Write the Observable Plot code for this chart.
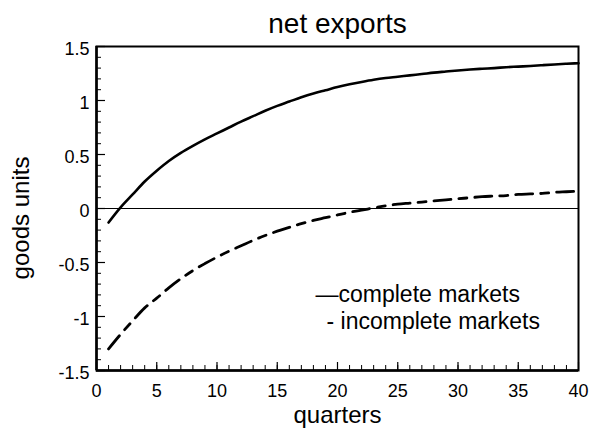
<!DOCTYPE html>
<html>
<head>
<meta charset="utf-8">
<script src="https://cdn.jsdelivr.net/npm/d3@7"></script>
<script src="https://cdn.jsdelivr.net/npm/@observablehq/plot@0.6"></script>
<style>
  html, body { margin: 0; padding: 0; background: #fff; }
</style>
</head>
<body>
<div id="chart"></div>
<script>
const title = "net exports";
const xLabel = "quarters";
const yLabel = "goods units";
const legendLabels = ["—complete markets", "- incomplete markets"];

const quarters = d3.range(1, 41);
const complete = [
  -0.13, 0.01, 0.13, 0.25, 0.35, 0.44, 0.515, 0.58, 0.64, 0.695,
  0.75, 0.805, 0.855, 0.905, 0.95, 0.99, 1.03, 1.065, 1.095, 1.125,
  1.15, 1.172, 1.192, 1.208, 1.22, 1.233, 1.245, 1.258, 1.268, 1.278,
  1.287, 1.294, 1.30, 1.308, 1.314, 1.32, 1.327, 1.334, 1.34, 1.345
];
const incomplete = [
  -1.30, -1.165, -1.04, -0.92, -0.83, -0.735, -0.65, -0.575, -0.51, -0.45,
  -0.395, -0.345, -0.295, -0.25, -0.21, -0.175, -0.14, -0.11, -0.085, -0.06,
  -0.035, -0.015, 0.005, 0.025, 0.04, 0.05, 0.06, 0.07, 0.08, 0.09,
  0.10, 0.11, 0.115, 0.12, 0.13, 0.135, 0.14, 0.15, 0.155, 0.16
];

const xTicks = [0, 5, 10, 15, 20, 25, 30, 35, 40];
const yTicks = [-1.5, -1, -0.5, 0, 0.5, 1, 1.5];
const xMinor = d3.range(0, 41, 1);
const yMinor = d3.range(-15, 16, 1).map(d => d / 10);

const W = 590, H = 434;
const mL = 96, mR = 12, mT = 46, mB = 64;
const pw = W - mL - mR, ph = H - mT - mB;

const rowsC = quarters.map((q, i) => ({q, v: complete[i]}));
const rowsI = quarters.map((q, i) => ({q, v: incomplete[i]}));

const font = "'Liberation Sans', Arial, Helvetica, sans-serif";

const legendDx = [219, 230];
const legendDy = [248, 275];

const chart = Plot.plot({
  width: W,
  height: H,
  marginLeft: mL,
  marginRight: mR,
  marginTop: mT,
  marginBottom: mB,
  style: {fontFamily: font, background: "#fff", color: "#000", overflow: "visible"},
  x: {domain: [0, 40], label: null},
  y: {domain: [-1.5, 1.5], label: null},
  marks: [
    Plot.ruleY([0], {stroke: "#000", strokeWidth: 1}),
    Plot.frame({stroke: "#000", strokeWidth: 2}),
    Plot.ruleX([0], {stroke: "#000", strokeWidth: 2.5}),
    Plot.ruleY([-1.5], {stroke: "#000", strokeWidth: 2.5}),
    Plot.tickY(yMinor, {y: d => d, insetRight: pw - 5, stroke: "#000", strokeWidth: 1}),
    Plot.tickY(yTicks, {y: d => d, insetRight: pw - 9, stroke: "#000", strokeWidth: 1.2}),
    Plot.tickX(xMinor, {x: d => d, insetTop: ph - 5, stroke: "#000", strokeWidth: 1}),
    Plot.tickX(xTicks, {x: d => d, insetTop: ph - 8, stroke: "#000", strokeWidth: 1.2}),
    Plot.axisX({ticks: xTicks, tickSize: 0, tickPadding: 14, fontSize: 18, tickFormat: d => String(d), label: null}),
    Plot.axisY({ticks: yTicks, tickSize: 0, tickPadding: 7, dy: 3, fontSize: 18, tickFormat: d => String(d), label: null}),
    Plot.line(rowsC, {x: "q", y: "v", stroke: "#000", strokeWidth: 2.6, curve: "monotone-x"}),
    Plot.line(rowsI, {x: "q", y: "v", stroke: "#000", strokeWidth: 2.8, curve: "monotone-x", strokeDasharray: "17,8,8,8"}),
    Plot.text([title], {text: d => d, frameAnchor: "top", dy: -22, fontSize: 28, textAnchor: "middle", lineAnchor: "middle", fill: "#000"}),
    Plot.text([xLabel], {text: d => d, frameAnchor: "bottom", dy: 45, fontSize: 24, textAnchor: "middle", lineAnchor: "middle", fill: "#000"}),
    Plot.text([yLabel], {text: d => d, frameAnchor: "left", dx: -75, dy: 9.5, rotate: -90, fontSize: 24, textAnchor: "middle", lineAnchor: "middle", fill: "#000"}),
    ...legendLabels.map((t, i) => Plot.text([t], {text: d => d, frameAnchor: "top-left", dx: legendDx[i], dy: legendDy[i], fontSize: 23, textAnchor: "start", lineAnchor: "middle", fill: "#000"}))
  ]
});

document.getElementById("chart").appendChild(chart);
</script>
</body>
</html>
